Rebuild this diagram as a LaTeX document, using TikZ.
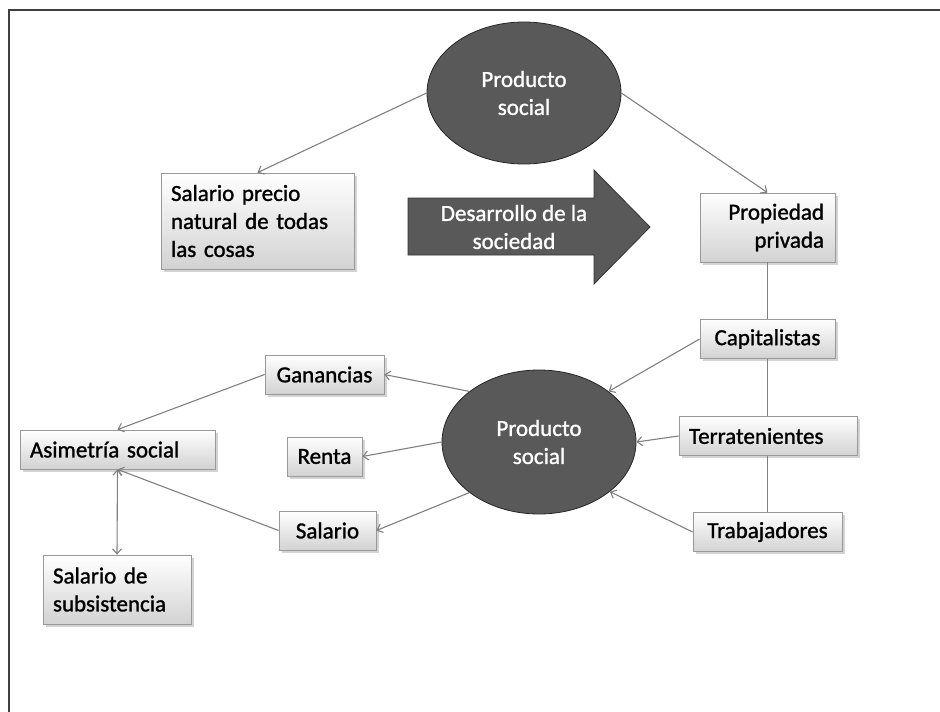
\documentclass[tikz,border=0pt]{standalone}
\usepackage{fontspec}
\setmainfont{Carlito}
\newfontfamily\diagfont{Carlito}[FakeBold=1.2]
\usetikzlibrary{arrows.meta,shadows,shapes.geometric}

\definecolor{darkfill}{HTML}{595959}
\definecolor{linegray}{HTML}{808080}

\begin{document}
\begin{tikzpicture}[x=1pt,y=-1pt,
    font=\diagfont\fontsize{23}{28}\selectfont,
    box/.style={draw=linegray!80,line width=0.8pt,top color=white,bottom color=gray!35,
        drop shadow={shadow xshift=2.5pt,shadow yshift=-2.5pt,opacity=0.35},
        inner xsep=10pt,inner ysep=2pt,minimum height=39pt},
    oval/.style={ellipse,draw=black!85,line width=0.8pt,fill=darkfill,text=white,align=center,
        minimum width=194pt},
    conn/.style={draw=linegray,line width=1.1pt,-{Straight Barb[length=5pt,width=9pt]}}]
        \useasboundingbox (0,0) rectangle (940,712);
        \draw[black!75,line width=1.8pt] (9,712) -- (9,10) -- (940,10);
        % upper part
        \node[oval,minimum height=142pt] (prodtop) at (524,93) {Producto\\social};
        \node[box,minimum width=193pt,minimum height=96pt,text width=173pt,align=left] (precio) at (257.5,221)
            {Salario precio\\natural de todas\\las cosas};
        \node[box,minimum width=135pt,minimum height=69pt,text width=113pt,align=right] (propiedad) at (767.5,227.5)
            {Propiedad\\privada};
        \draw[black!80,line width=0.8pt,fill=darkfill] (408,198) -- (594,198) -- (594,170) -- (650,227)
            -- (594,284) -- (594,255) -- (408,255) -- cycle;
        \node[text=white,align=center] (desarrollo) at (514,227) {Desarrollo de la\\sociedad};
        % lower part
        \node[box,minimum width=135pt] (capitalistas) at (767.5,339) {Capitalistas};
        \node[box,minimum width=178pt,text width=158pt,align=left] (terratenientes) at (768,436) {Terratenientes};
        \node[box,minimum width=149pt] (trabajadores) at (767.5,532) {Trabajadores};
        \node[oval,minimum height=144pt] (prodbot) at (539,442) {Producto\\social};
        \node[box,minimum width=119pt] (ganancias) at (324.5,374.5) {Ganancias};
        \node[box,minimum width=75pt,inner xsep=4pt] (renta) at (324.5,456.5) {Renta};
        \node[box,minimum width=97pt] (salario) at (327.5,530.5) {Salario};
        \node[box,minimum width=193pt,text width=175pt,align=left] (asimetria) at (117.5,449.5) {Asimetría social};
        \node[box,minimum width=148pt,minimum height=69pt,text width=128pt,align=left] (subsistencia) at (117,589.5)
            {Salario de\\subsistencia};
        % connectors
        \path[conn] (prodtop.west) edge (precio.north)
            (prodtop.east) edge (propiedad.north)
            (capitalistas.west) edge (prodbot.36)
            (terratenientes.west) edge (prodbot.east)
            (trabajadores.west) edge (prodbot.-35)
            (prodbot.144) edge (ganancias.east)
            (prodbot.west) edge (renta.east)
            (prodbot.-144) edge (salario.east)
            (ganancias.west) edge (asimetria.north)
            (salario.west) edge (asimetria.south)
            (asimetria.south) edge (subsistencia.north);
        \draw[linegray,line width=1.1pt] (propiedad.south) -- (capitalistas.north)
            (capitalistas.south) -- (terratenientes.north -| capitalistas.south)
            (terratenientes.south -| trabajadores.north) -- (trabajadores.north);
    \end{tikzpicture}
\end{document}
